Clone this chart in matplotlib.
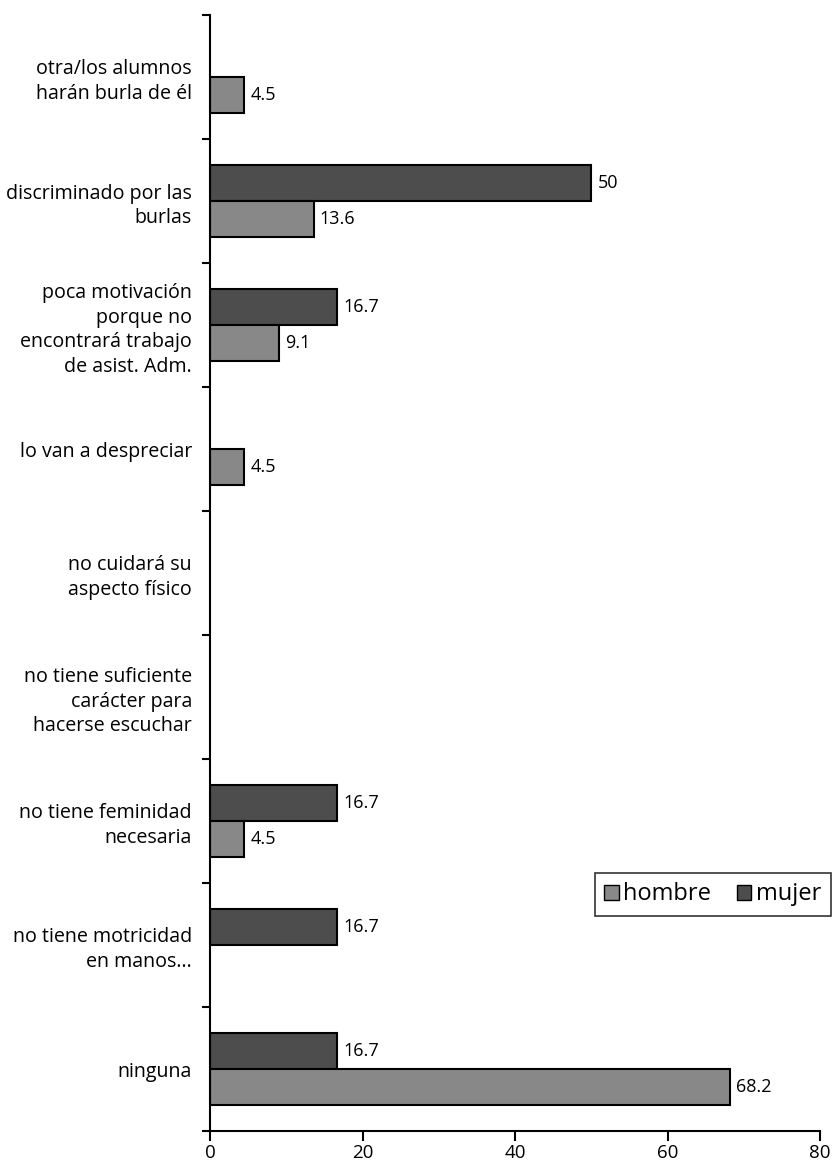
import matplotlib
matplotlib.use("Agg")
import matplotlib.pyplot as plt
import numpy as np
from matplotlib.patches import Patch

plt.rcParams['font.family'] = ['Open Sans', 'DejaVu Sans']

categories = [
    "otra/los alumnos\nharán burla de él",
    "discriminado por las\nburlas",
    "poca motivación\nporque no\nencontrará trabajo\nde asist. Adm.",
    "lo van a despreciar",
    "no cuidará su\naspecto físico",
    "no tiene suficiente\ncarácter para\nhacerse escuchar",
    "no tiene feminidad\nnecesaria",
    "no tiene motricidad\nen manos...",
    "ninguna",
]
hombre = [4.5, 13.6, 9.1, 4.5, 0, 0, 4.5, 0, 68.2]
mujer = [0, 50, 16.7, 0, 0, 0, 16.7, 16.7, 16.7]
xticks = [0, 20, 40, 60, 80]

c_h = "#888888"
c_m = "#4d4d4d"

fig = plt.figure(figsize=(8.33, 11.66), dpi=100)
ax = fig.add_axes([210/833, 1 - 1131/1166, 610/833, (1131 - 15)/1166])

n = len(categories)
y = np.arange(n)
bh = 0.29
vfs = 13

for i in range(n):
    if mujer[i] > 0:
        ax.barh(y[i] - bh/2, mujer[i], height=bh, color=c_m, edgecolor='black', linewidth=1.5)
        ax.text(mujer[i] + 0.8, y[i] - bh/2, f"{mujer[i]:g}", va='center', ha='left', fontsize=vfs)
    if hombre[i] > 0:
        ax.barh(y[i] + bh/2, hombre[i], height=bh, color=c_h, edgecolor='black', linewidth=1.5)
        ax.text(hombre[i] + 0.8, y[i] + bh/2, f"{hombre[i]:g}", va='center', ha='left', fontsize=vfs)

ax.set_ylim(n - 0.5, -0.5)
ax.set_xlim(0, 80)
ax.set_xticks(xticks)
ax.set_xticklabels([str(t) for t in xticks], fontsize=13.5)
ax.set_yticks(np.arange(n + 1) - 0.5, minor=False)
ax.set_yticklabels([])
ax.set_yticks(y, minor=True)
ax.set_yticklabels(categories, minor=True, fontsize=14.1, ha='right', linespacing=1.3)
ax.tick_params(axis='y', which='minor', length=0, pad=13)
ax.tick_params(axis='y', which='major', direction='out', length=6, width=1.5)
ax.tick_params(axis='x', direction='out', length=7, width=1.5, pad=2)

for s in ['top', 'right']:
    ax.spines[s].set_visible(False)
for s in ['left', 'bottom']:
    ax.spines[s].set_linewidth(1.5)

handles = [Patch(facecolor=c_h, edgecolor='black', linewidth=1),
           Patch(facecolor=c_m, edgecolor='black', linewidth=1)]
leg = fig.legend(handles, ["hombre", "mujer"], ncol=2, loc='upper right',
                 bbox_to_anchor=(831/833, 1 - 873/1166), bbox_transform=fig.transFigure,
                 fontsize=17, frameon=True, fancybox=False, edgecolor='black',
                 handlelength=0.6, handleheight=0.6, handletextpad=0.2,
                 columnspacing=1.1, borderpad=0.4, borderaxespad=0)
leg.get_frame().set_linewidth(1.2)

fig.savefig("out.png", dpi=100)
